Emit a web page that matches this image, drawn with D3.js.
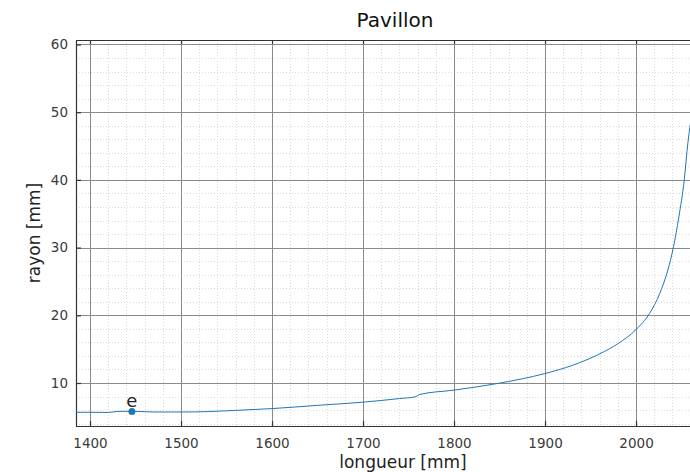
<!DOCTYPE html>
<html>
<head>
<meta charset="utf-8">
<script src="https://cdn.jsdelivr.net/npm/d3@7"></script>
<style>
  body { margin: 0; background: #fff; }
  text { font-family: "DejaVu Sans", sans-serif; }
</style>
</head>
<body>
<div id="chart"></div>
<script>
// data
var longueur = [1384, 1400, 1420, 1430, 1440, 1446, 1452, 1470, 1500, 1530, 1560, 1600, 1650, 1700, 1740, 1758, 1762, 1800, 1850, 1900, 1930, 1960, 1980, 2000, 2015, 2026, 2035, 2041, 2047, 2053, 2057, 2060];
var rayon = [5.68, 5.67, 5.65, 5.8, 5.82, 5.76, 5.8, 5.72, 5.72, 5.78, 5.95, 6.22, 6.7, 7.17, 7.7, 7.98, 8.3, 8.95, 9.98, 11.4, 12.6, 14.3, 15.8, 17.9, 20.3, 23.2, 26.7, 30.0, 34.5, 40.0, 45.5, 48.5];
var pointE = { x: 1446, y: 5.78, label: "e" };
var xTicks = [1400, 1500, 1600, 1700, 1800, 1900, 2000];
var yTicks = [10, 20, 30, 40, 50, 60];

var svgWidth = 690;
var svgHeight = 472;
var margin = { top: 40, right: 0, bottom: 46, left: 76 };
var width = svgWidth - margin.left - margin.right;
var height = svgHeight - margin.top - margin.bottom;

var svg = d3.select("#chart")
    .append("svg")
    .attr("width", svgWidth)
    .attr("height", svgHeight);

var chartGroup = svg.append("g")
    .attr("transform", `translate(${margin.left}, ${margin.top})`);

var x = d3.scaleLinear().domain([1384.6, 2059.3]).range([0, width]);
var y = d3.scaleLinear().domain([3.65, 60.66]).range([height, 0]);

svg.append("defs").append("clipPath").attr("id", "clip")
    .append("rect").attr("width", width).attr("height", height);

// minor grid
var xMinor = d3.range(1380, 2080, 20).filter(v => v > x.domain()[0] && v < x.domain()[1] && v % 100 !== 0);
var yMinor = d3.range(4, 62, 2).filter(v => v > y.domain()[0] && v < y.domain()[1] && v % 10 !== 0);

chartGroup.selectAll(".xminor").data(xMinor).enter().append("line")
    .attr("x1", d => Math.round(x(d)) + 0.5).attr("x2", d => Math.round(x(d)) + 0.5)
    .attr("y1", 0).attr("y2", height)
    .attr("stroke", "#dadada").attr("stroke-dasharray", "1,2");

chartGroup.selectAll(".yminor").data(yMinor).enter().append("line")
    .attr("y1", d => Math.round(y(d)) + 0.5).attr("y2", d => Math.round(y(d)) + 0.5)
    .attr("x1", 0).attr("x2", width)
    .attr("stroke", "#dadada").attr("stroke-dasharray", "1,2");

// major grid
chartGroup.selectAll(".xgrid").data(xTicks).enter().append("line")
    .attr("x1", d => Math.round(x(d)) + 0.5).attr("x2", d => Math.round(x(d)) + 0.5)
    .attr("y1", 0).attr("y2", height)
    .attr("stroke", "#8a8a8a");

chartGroup.selectAll(".ygrid").data(yTicks).enter().append("line")
    .attr("y1", d => Math.round(y(d)) + 0.5).attr("y2", d => Math.round(y(d)) + 0.5)
    .attr("x1", 0).attr("x2", width)
    .attr("stroke", "#8a8a8a");

// axes
var bottomAxis = d3.axisBottom(x).tickValues(xTicks).tickSize(-5).tickPadding(12).tickFormat(d3.format("d"));
var leftAxis = d3.axisLeft(y).tickValues(yTicks).tickSize(-5).tickPadding(8);
var topAxis = d3.axisTop(x).tickValues(xTicks).tickSize(-4).tickFormat("");

var gx = chartGroup.append("g")
    .attr("transform", `translate(0, ${height})`)
    .call(bottomAxis);
var gy = chartGroup.append("g").call(leftAxis);
var gt = chartGroup.append("g").call(topAxis);

[gx, gy, gt].forEach(function(g) {
    g.select(".domain").attr("stroke", "#333").attr("stroke-width", 1.2);
    g.selectAll(".tick line").attr("stroke", "#333").attr("stroke-width", 1.2);
    g.selectAll(".tick text").attr("fill", "#3a3a3a").style("font-size", "13.5px");
});
gy.select(".domain").attr("d", `M0.5,${height}V0`);
gx.select(".domain").attr("d", `M0,0.5H${width}`);
gt.select(".domain").attr("d", `M0,0.5H${width}`);

// curve
var line = d3.line()
    .x((d, i) => x(longueur[i]))
    .y(d => y(d))
    .curve(d3.curveMonotoneX);

chartGroup.append("g").attr("clip-path", "url(#clip)")
    .append("path")
    .datum(rayon)
    .attr("d", line)
    .attr("fill", "none")
    .attr("stroke", "#1f77b4")
    .attr("stroke-width", 1);

// point e
chartGroup.append("circle")
    .attr("cx", x(pointE.x))
    .attr("cy", y(pointE.y))
    .attr("r", 3.5)
    .attr("fill", "#1f77b4");

chartGroup.append("text")
    .attr("x", x(pointE.x))
    .attr("y", y(pointE.y) - 5)
    .attr("text-anchor", "middle")
    .attr("fill", "#222")
    .style("font-size", "18px")
    .text(pointE.label);

// title and labels
svg.append("text")
    .attr("x", 395)
    .attr("y", 27)
    .attr("text-anchor", "middle")
    .attr("fill", "#111")
    .style("font-size", "20px")
    .text("Pavillon");

svg.append("text")
    .attr("x", 403)
    .attr("y", 468)
    .attr("text-anchor", "middle")
    .attr("fill", "#222")
    .style("font-size", "17px")
    .text("longueur [mm]");

svg.append("text")
    .attr("transform", "rotate(-90)")
    .attr("x", -(margin.top + height / 2))
    .attr("y", 40)
    .attr("text-anchor", "middle")
    .attr("fill", "#222")
    .style("font-size", "17px")
    .text("rayon [mm]");
</script>
</body>
</html>
